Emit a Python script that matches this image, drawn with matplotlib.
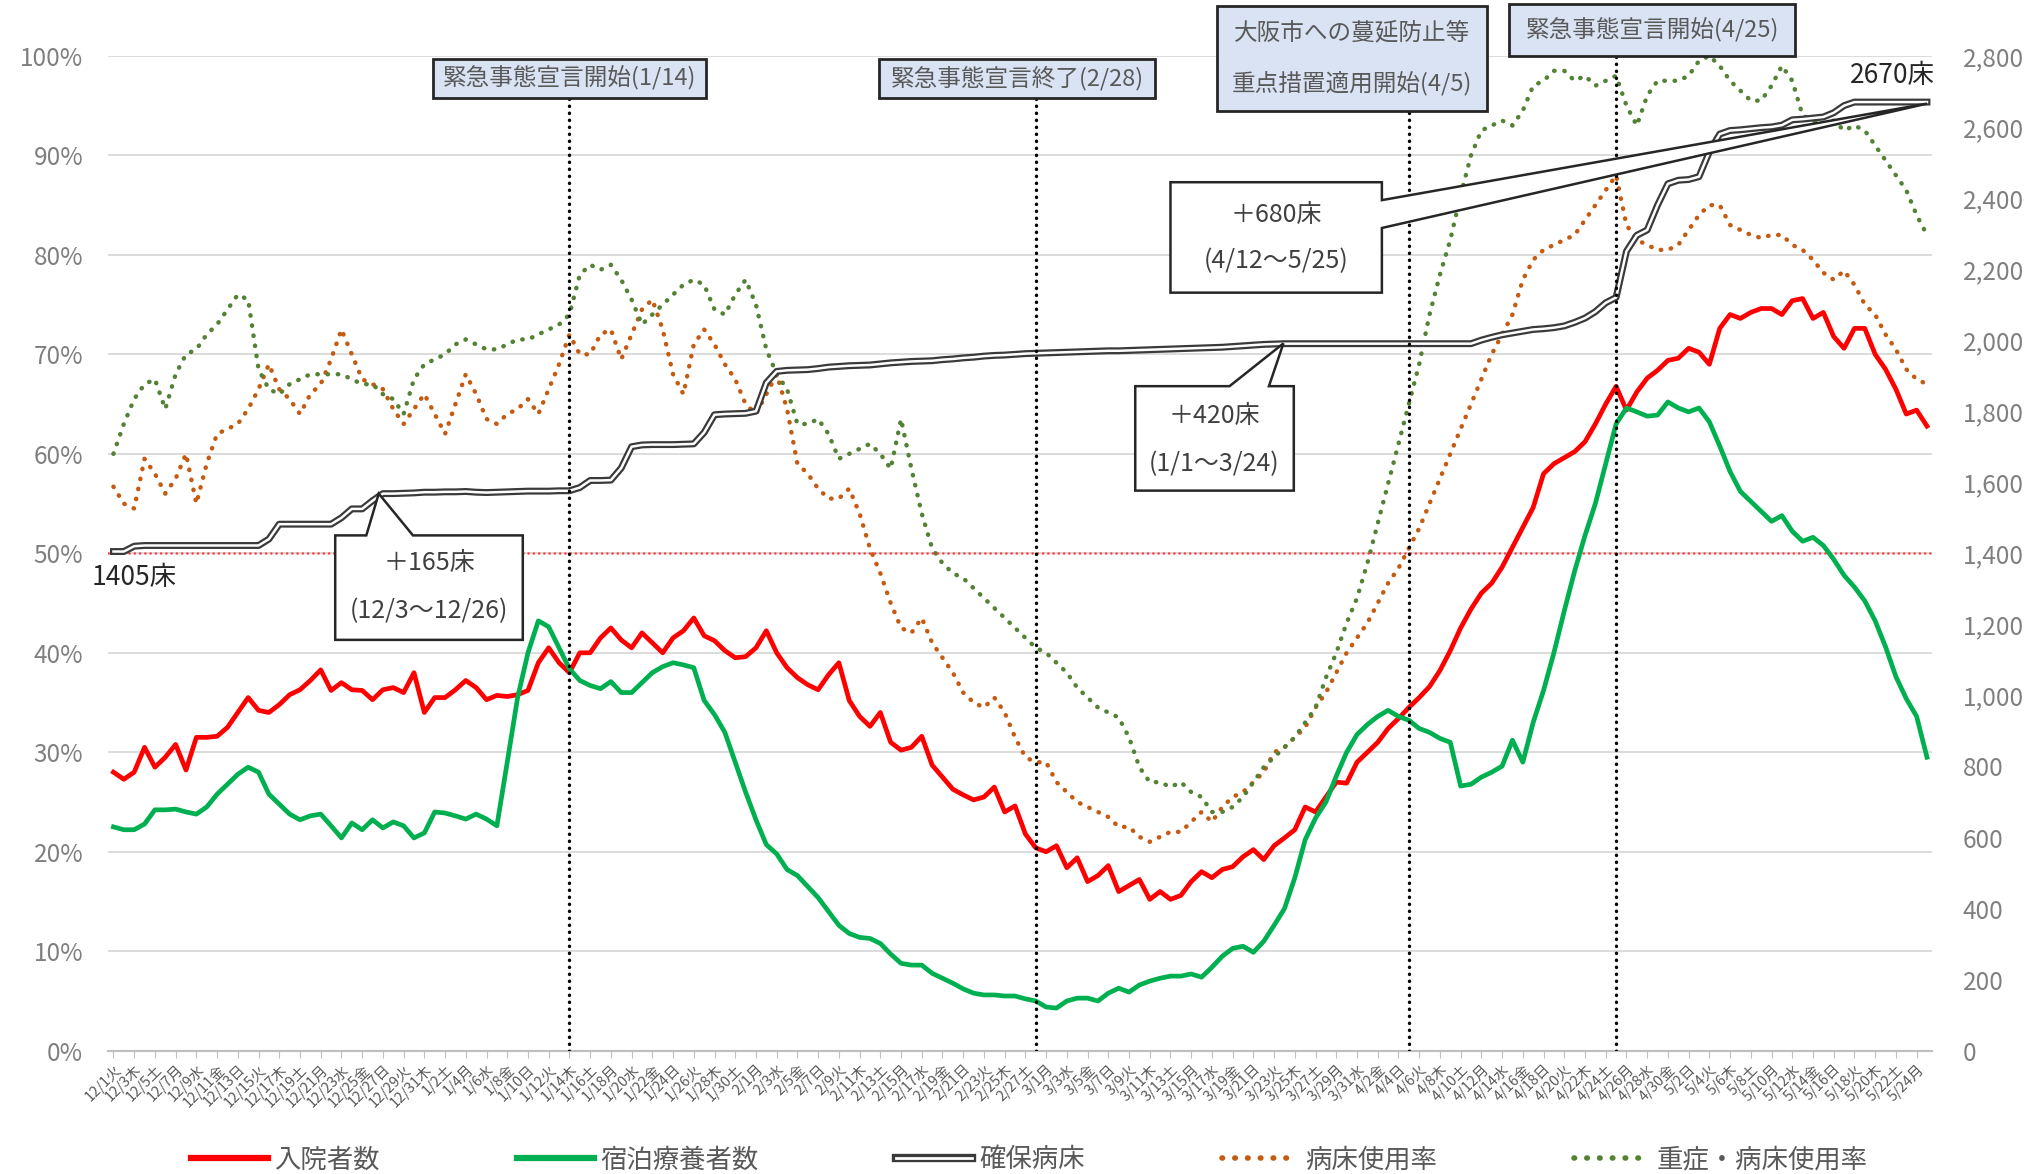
import datetime as dt
import matplotlib
matplotlib.use("Agg")
import matplotlib.pyplot as plt
from matplotlib.patches import Polygon
from matplotlib.lines import Line2D

plt.rcParams["font.family"] = ["Noto Sans CJK JP", "DejaVu Sans"]

# 日付 (2020/12/1 ～ 2021/5/25)
start = dt.date(2020, 12, 1)
dates = [start + dt.timedelta(days=i) for i in range(176)]
youbi = "月火水木金土日"
tick_pos = list(range(0, 176, 2))
tick_labels = [f"{dates[i].month}/{dates[i].day}{youbi[dates[i].weekday()]}" for i in tick_pos]

# 入院者数 (人)
nyuin = [784, 764, 784, 854, 798, 826, 862, 790, 882, 882,
         885, 910, 952, 994, 958, 952, 974, 1002, 1016, 1042,
         1072, 1014, 1036, 1016, 1014, 988, 1016, 1022, 1008, 1064,
         952, 994, 994, 1016, 1042, 1022, 988, 1000, 997, 1002,
         1014, 1092, 1134, 1092, 1064, 1120, 1120, 1162, 1190, 1156,
         1134, 1176, 1148, 1120, 1162, 1182, 1218, 1168, 1154, 1126,
         1106, 1109, 1134, 1182, 1120, 1078, 1050, 1030, 1016, 1058,
         1092, 986, 941, 913, 952, 868, 846, 854, 885, 804,
         770, 736, 720, 706, 714, 742, 672, 689, 610, 571,
         560, 577, 515, 543, 476, 493, 521, 448, 465, 482,
         426, 448, 426, 437, 476, 504, 487, 510, 518, 546,
         566, 538, 577, 599, 622, 686, 672, 714, 756, 753,
         812, 840, 868, 907, 935, 966, 994, 1025, 1070, 1126,
         1190, 1243, 1288, 1316, 1361, 1417, 1473, 1529, 1624, 1652,
         1669, 1686, 1714, 1764, 1820, 1870, 1803, 1854, 1893, 1915,
         1943, 1949, 1977, 1966, 1932, 2033, 2072, 2061, 2078, 2089,
         2089, 2072, 2111, 2117, 2061, 2078, 2010, 1977, 2033, 2033,
         1960, 1918, 1862, 1792, 1803, 1758]

# 宿泊療養者数 (人)
shukuhaku = [630, 622, 622, 638, 678, 678, 680, 672, 666, 686,
             722, 750, 778, 798, 784, 722, 694, 666, 650, 661,
             666, 633, 599, 641, 622, 650, 627, 644, 633, 599,
             613, 672, 669, 661, 652, 666, 652, 633, 812, 994,
             1120, 1210, 1193, 1134, 1075, 1042, 1028, 1019, 1039, 1008,
             1008, 1036, 1064, 1081, 1092, 1086, 1078, 986, 946, 896,
             812, 728, 650, 580, 554, 510, 493, 462, 431, 392,
             353, 330, 319, 316, 302, 272, 246, 241, 241, 218,
             204, 190, 174, 162, 157, 157, 154, 154, 146, 140,
             123, 120, 140, 148, 148, 140, 162, 176, 165, 185,
             196, 204, 210, 210, 216, 207, 235, 266, 288, 294,
             277, 308, 353, 400, 487, 594, 655, 700, 773, 840,
             890, 918, 941, 958, 941, 930, 907, 896, 879, 868,
             745, 750, 770, 784, 801, 874, 812, 924, 1014, 1120,
             1238, 1350, 1450, 1540, 1652, 1764, 1809, 1798, 1786, 1789,
             1826, 1809, 1798, 1809, 1770, 1702, 1630, 1574, 1546, 1518,
             1490, 1506, 1462, 1434, 1445, 1422, 1383, 1338, 1305, 1266,
             1210, 1137, 1053, 991, 941, 826]

# 確保病床 (床)
kakuho = [1405, 1405, 1420, 1422, 1422, 1422, 1422, 1422, 1422, 1422,
          1422, 1422, 1422, 1422, 1422, 1440, 1482, 1482, 1482, 1482,
          1482, 1482, 1500, 1525, 1525, 1548, 1568, 1568, 1569, 1570,
          1572, 1572, 1573, 1573, 1574, 1572, 1571, 1572, 1573, 1574,
          1575, 1575, 1575, 1576, 1576, 1585, 1605, 1605, 1606, 1640,
          1700, 1705, 1706, 1706, 1706, 1707, 1708, 1740, 1790, 1792,
          1793, 1794, 1800, 1880, 1912, 1915, 1916, 1917, 1920, 1924,
          1926, 1928, 1929, 1930, 1933, 1936, 1938, 1940, 1941, 1942,
          1945, 1947, 1950, 1952, 1955, 1957, 1958, 1960, 1962, 1963,
          1964, 1965, 1966, 1967, 1968, 1969, 1970, 1970, 1971, 1972,
          1973, 1974, 1975, 1976, 1977, 1978, 1979, 1980, 1982, 1984,
          1986, 1988, 1989, 1990, 1990, 1990, 1990, 1990, 1990, 1990,
          1990, 1990, 1990, 1990, 1990, 1990, 1990, 1990, 1990, 1990,
          1990, 1990, 2000, 2008, 2015, 2020, 2025, 2030, 2032, 2035,
          2040, 2050, 2062, 2080, 2105, 2120, 2250, 2295, 2310, 2380,
          2440, 2450, 2452, 2460, 2530, 2580, 2590, 2592, 2595, 2598,
          2600, 2605, 2620, 2622, 2625, 2628, 2640, 2660, 2670, 2670,
          2670, 2670, 2670, 2670, 2670, 2670]

# 病床使用率 (%)
byosho = [56.7, 55, 54.5, 59.5, 58, 56, 57.5, 60, 55, 59,
          62, 62.5, 63, 64.5, 66.5, 69, 66.5, 65.5, 64, 66,
          67, 69.5, 72.5, 70, 67.5, 67, 66.5, 64.5, 63, 64.5,
          66, 64, 62, 65, 68, 66, 63.5, 63, 64, 64.5,
          65.5, 64, 66.5, 69, 72, 70, 70, 72, 72.5, 69.5,
          72, 74.5, 75.5, 72.5, 68, 66, 71, 72.5, 71, 69,
          67.5, 65, 64, 66, 68, 64.5, 59, 58, 56.5, 55.5,
          55.5, 56.5, 54, 50.5, 48, 45, 42.5, 42, 43.5, 41,
          39.5, 38, 36, 35, 34.5, 35.5, 34, 31.5, 29.5, 29,
          29, 27, 26, 25, 24.5, 24, 23.5, 22.5, 22.5, 21.5,
          21, 21.5, 22, 22, 23, 24, 23, 24.5, 25.5, 26,
          27, 28, 30, 30.5, 31.5, 32.5, 34.5, 36, 38, 40,
          41.5, 43, 45, 47, 48.5, 50.5, 52.5, 55, 57.5, 60,
          62.5, 65, 67.5, 70, 72, 74, 77.5, 79.5, 80.5, 81,
          81.5, 82, 83.5, 85, 86.5, 88, 83, 81.5, 81, 80.5,
          80.5, 81, 82.5, 84, 85, 85, 83, 82.5, 82, 81.7,
          82, 82, 81, 80.5, 79.5, 78.2, 77.5, 78.4, 77, 75,
          74, 72, 70.5, 68.5, 67.5, 67]

# 重症・病床使用率 (%)
jusho = [60, 63, 65.5, 67, 67.5, 64.5, 68, 70, 70.5, 72,
         73, 74.5, 76, 75.5, 68.5, 66.5, 66, 67, 67.5, 68,
         68, 68, 68, 67.5, 67, 67, 66, 65.5, 64, 67.5,
         69, 69.5, 70, 71, 71.5, 71, 70.5, 70.5, 71, 71.5,
         71.5, 72, 72.5, 73, 74, 78, 79, 78.5, 79, 77.5,
         75.5, 73, 74, 75, 76, 77, 77.5, 77, 74.5, 74,
         76, 77.5, 75, 70.5, 68, 66.5, 63, 63, 63.5, 62,
         59.5, 60, 60.5, 61, 60, 58.5, 63.5, 58.5, 54, 50.5,
         49, 48, 47.5, 46.5, 45.5, 44.5, 43.5, 42.5, 41.5, 40.5,
         40, 39, 38, 36.5, 35.5, 34.5, 34, 33.5, 31.5, 28.5,
         27, 27, 26.5, 27, 26, 25.5, 24, 24, 24.5, 25.5,
         27, 28.5, 29.5, 30.5, 31.5, 33, 34.5, 37.5, 40, 43,
         45.5, 49, 53, 57, 61, 65, 69, 74, 78, 81.5,
         86, 90, 92.5, 93, 93.5, 93, 94.5, 97, 97.5, 98.5,
         98.5, 97.5, 98, 97, 97.5, 98, 95, 93, 96, 97.5,
         97.5, 97.5, 98, 99.5, 100, 99, 97.5, 96.5, 95.5, 95.5,
         97, 99, 97.5, 94, 93.5, 93, 93.5, 92.5, 93, 92.5,
         91, 89.5, 88, 86.5, 84, 82]

x = list(range(len(nyuin)))

RED = "#ff0000"
GREEN = "#00b050"
BROWN = "#c55a11"
OLIVE = "#548235"
DARK = "#3a3a3a"
GRAY_TXT = "#595959"
DOT = (0, (0.1, 2.2))

fig = plt.figure(figsize=(20.39, 11.74), dpi=100)
ax = fig.add_axes([0.0531, 0.105, 0.8945, 0.8474])
ax2 = ax.twinx()

ax.set_xlim(-0.5, 175.5)
ax.set_ylim(0, 100)
ax2.set_ylim(0, 2800)

# 率 (左軸)
ax.plot(x, byosho, color=BROWN, lw=3.2, ls=DOT, dash_capstyle="round")
ax.plot(x, jusho, color=OLIVE, lw=3.2, ls=DOT, dash_capstyle="round")
ax.axhline(50, color="#ff4040", lw=1.8, ls=(0, (0.1, 2.0)), dash_capstyle="round")

# 人数・病床数 (右軸)
ax2.plot(x, nyuin, color=RED, lw=3.4)
ax2.plot(x, shukuhaku, color=GREEN, lw=3.4)
ax2.plot(x, kakuho, color=DARK, lw=5)
ax2.plot(x, kakuho, color="white", lw=1.8)

# 軸の見た目
ax.set_yticks(range(0, 101, 10))
ax.set_yticklabels([f"{v}%" for v in range(0, 101, 10)])
ax2.set_yticks(range(0, 2801, 200))
ax2.set_yticklabels([f"{v:,}" for v in range(0, 2801, 200)])
ax.yaxis.grid(True, color="#d9d9d9", lw=1.3)
ax.set_axisbelow(True)
for a in (ax, ax2):
    for s in ("top", "left", "right"):
        a.spines[s].set_visible(False)
    a.spines["bottom"].set_color("#bfbfbf")
    a.spines["bottom"].set_linewidth(1.5)
ax.tick_params(axis="y", length=0, pad=18, labelsize=17.5, labelcolor="#7f7f7f")
ax2.tick_params(axis="y", length=0, pad=22, labelsize=17.5, labelcolor="#7f7f7f")
ax.set_xticks(tick_pos)
ax.set_xticklabels(tick_labels, rotation=45, ha="right", rotation_mode="anchor")
ax.tick_params(axis="x", length=5, color="#bfbfbf", labelsize=10.5, labelcolor=GRAY_TXT, pad=3)

T = ax.transData

# 宣言などの縦線と見出し
events = [
    (44, 95.8, 30.8, 57.2, 95.8, 99.7, ["緊急事態宣言開始(1/14)"], [97.8]),
    (89, 95.8, 73.9, 100.5, 95.8, 99.7, ["緊急事態宣言終了(2/28)"], [97.8]),
    (125, 94.5, 106.5, 132.5, 94.5, 105.0, ["大阪市への蔓延防止等", "重点措置適用開始(4/5)"], [102.3, 97.3]),
    (145, 100.0, 134.7, 162.3, 100.0, 105.2, ["緊急事態宣言開始(4/25)"], [102.6]),
]
for d, top, x0, x1, y0, y1, lines, ys in events:
    ax2.plot([d, d], [0, top], transform=T, color="black", lw=2.4,
             ls=(0, (0.1, 2.0)), dash_capstyle="round", zorder=4)
    box = Polygon([(x0, y0), (x1, y0), (x1, y1), (x0, y1)], closed=True,
                  facecolor="#dae3f3", edgecolor="#262626", lw=2, transform=T,
                  clip_on=False, zorder=6)
    ax2.add_patch(box)
    for txt, yy in zip(lines, ys):
        ax2.text((x0 + x1) / 2, yy, txt, transform=T, ha="center", va="center",
                 fontsize=17, color=GRAY_TXT, zorder=7, clip_on=False)

# 吹き出し
callouts = [
    ([(21.4, 51.8), (24.4, 51.8), (25.6, 56.0), (28.9, 51.8), (39.5, 51.8),
      (39.5, 41.3), (21.4, 41.3)], (30.45, 49.0), (30.45, 44.2),
     "＋165床", "(12/3～12/26)"),
    ([(98.6, 66.8), (107.7, 66.8), (112.9, 71.1), (111.5, 66.8), (113.9, 66.8),
      (113.9, 56.3), (98.6, 56.3)], (106.25, 63.8), (106.25, 59.0),
     "＋420床", "(1/1～3/24)"),
    ([(102.0, 87.3), (122.4, 87.3), (122.4, 85.5), (175.0, 95.2), (122.4, 82.7),
      (122.4, 76.2), (102.0, 76.2)], (112.2, 84.0), (112.2, 79.4),
     "＋680床", "(4/12～5/25)"),
]
for verts, p1, p2, t1, t2 in callouts:
    ax2.add_patch(Polygon(verts, closed=True, facecolor="white", edgecolor="#262626",
                          lw=1.8, transform=T, zorder=8, clip_on=False))
    ax2.text(*p1, t1, transform=T, ha="center", va="center", fontsize=18,
             color="#404040", zorder=9)
    ax2.text(*p2, t2, transform=T, ha="center", va="center", fontsize=18,
             color="#404040", zorder=9)

ax2.text(2.0, 47.6, "1405床", transform=T, ha="center", va="center", fontsize=19,
         color="#262626", zorder=9, clip_on=False)
ax2.text(171.7, 98.0, "2670床", transform=T, ha="center", va="center", fontsize=19,
         color="#262626", zorder=9, clip_on=False)

# 凡例
handles = [
    Line2D([], [], color=RED, lw=4.5),
    Line2D([], [], color=GREEN, lw=4.5),
    (Line2D([], [], color=DARK, lw=6), Line2D([], [], color="white", lw=2)),
    Line2D([], [], color=BROWN, lw=4, ls=DOT, dash_capstyle="round"),
    Line2D([], [], color=OLIVE, lw=4, ls=DOT, dash_capstyle="round"),
]
labels = ["入院者数", "宿泊療養者数", "確保病床", "病床使用率", "重症・病床使用率"]
fig.legend(handles, labels, loc="center", bbox_to_anchor=(0.505, 0.012), ncol=5,
           frameon=False, fontsize=19, handlelength=2.9, handletextpad=0.25,
           columnspacing=5.2, labelcolor=GRAY_TXT)

fig.savefig("out.png", dpi=100)
